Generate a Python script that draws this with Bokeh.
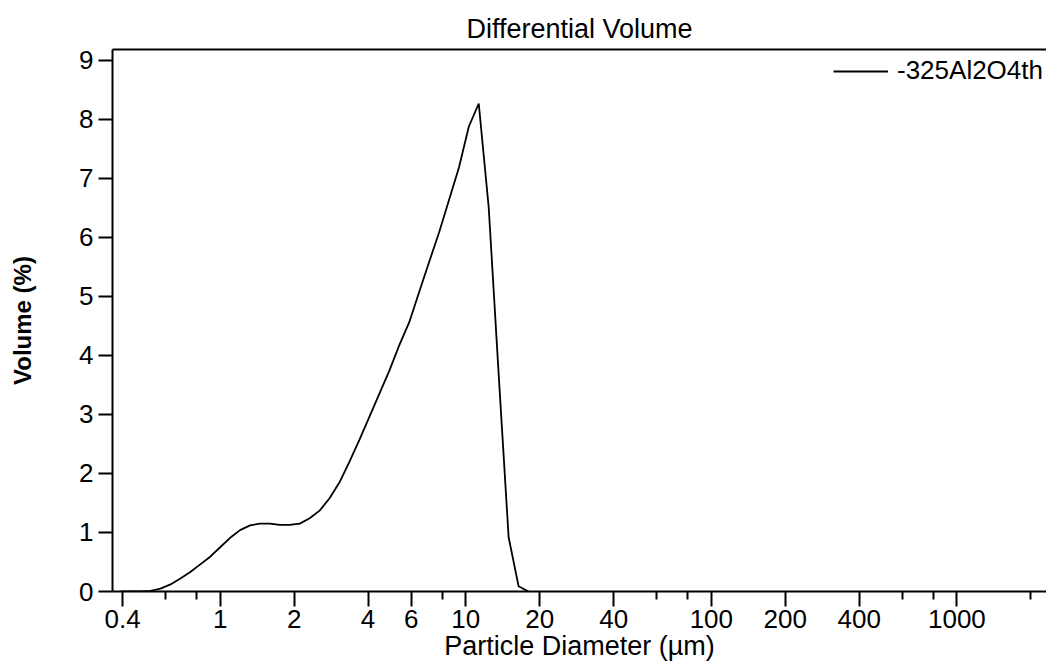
from bokeh.plotting import figure
from bokeh.models import (Range1d, FixedTicker, LinearAxis, Legend, LegendItem,
                          CustomJSTickFormatter, ColumnDataSource)
from bokeh.embed import file_html
from bokeh.resources import INLINE

# Particle diameter (µm, channel centres) and differential volume (%)
diameter = [0.393, 0.432, 0.474, 0.520, 0.571, 0.627, 0.688, 0.755, 0.829, 0.910,
            0.999, 1.097, 1.204, 1.322, 1.451, 1.592, 1.748, 1.919, 2.107, 2.313,
            2.539, 2.787, 3.060, 3.359, 3.687, 4.048, 4.443, 4.878, 5.355, 5.879,
            6.453, 7.084, 7.777, 8.537, 9.371, 10.29, 11.29, 12.40, 13.61, 14.94,
            16.40, 18.00]
volume = [0.0, 0.0, 0.0, 0.01, 0.05, 0.12, 0.22, 0.33, 0.46, 0.59,
          0.75, 0.91, 1.04, 1.12, 1.15, 1.15, 1.13, 1.13, 1.15, 1.24,
          1.37, 1.58, 1.85, 2.20, 2.57, 2.96, 3.35, 3.74, 4.17, 4.56,
          5.07, 5.58, 6.08, 6.63, 7.18, 7.88, 8.27, 6.50, 3.68, 0.92,
          0.09, 0.0]

series_name = "-325Al2O4th"
x_label = "Particle Diameter (µm)"
y_label = "Volume (%)"
x_major_ticks = [0.4, 1, 2, 4, 6, 10, 20, 40, 100, 200, 400, 1000]
x_minor_ticks = [0.6, 0.8, 8, 60, 80, 600, 800, 2000]
y_ticks = [0, 1, 2, 3, 4, 5, 6, 7, 8, 9]

FONT = "Liberation Sans"

p = figure(width=1046, height=663, x_axis_type="log",
           x_range=Range1d(0.364, 2317), y_range=Range1d(0, 9.185),
           output_backend="svg", toolbar_location=None,
           title="Differential Volume",
           min_border_left=112, min_border_right=0,
           min_border_top=49, min_border_bottom=69)

p.background_fill_color = "white"
p.border_fill_color = "white"
p.outline_line_color = None
p.grid.visible = False

p.title.align = "center"
p.title.text_font = FONT
p.title.text_font_size = "27px"
p.title.text_font_style = "normal"
p.title.text_color = "black"
p.title.standoff = 12

src = ColumnDataSource(dict(x=diameter, y=volume))
r = p.line("x", "y", source=src, line_color="black", line_width=1.8)

# x axis
xa = p.xaxis[0]
xa.ticker = FixedTicker(ticks=x_major_ticks, minor_ticks=x_minor_ticks)
xa.formatter = CustomJSTickFormatter(code="return String(Number(tick.toPrecision(6)));")
xa.axis_label = x_label
xa.axis_label_text_font = FONT
xa.axis_label_text_font_size = "27px"
xa.axis_label_text_font_style = "normal"
xa.axis_label_text_color = "black"
xa.axis_label_standoff = 0
xa.major_label_text_font = FONT
xa.major_label_text_font_size = "26px"
xa.major_label_text_color = "black"
xa.major_label_standoff = 3
xa.major_tick_out = 15
xa.major_tick_in = 0
xa.minor_tick_out = 8
xa.minor_tick_in = 0
xa.axis_line_width = 2
xa.axis_line_color = "black"
xa.major_tick_line_width = 2
xa.minor_tick_line_width = 2
xa.major_tick_line_color = "black"
xa.minor_tick_line_color = "black"

# y axis
ya = p.yaxis[0]
ya.ticker = FixedTicker(ticks=y_ticks, minor_ticks=[])
ya.axis_label = y_label
ya.axis_label_text_font = FONT
ya.axis_label_text_font_size = "24px"
ya.axis_label_text_font_style = "bold"
ya.axis_label_text_color = "black"
ya.axis_label_standoff = 40
ya.major_label_text_font = FONT
ya.major_label_text_font_size = "26px"
ya.major_label_text_color = "black"
ya.major_label_standoff = 5
ya.major_tick_out = 14
ya.major_tick_in = 0
ya.minor_tick_out = 0
ya.minor_tick_in = 0
ya.axis_line_width = 2
ya.axis_line_color = "black"
ya.major_tick_line_width = 2
ya.major_tick_line_color = "black"

# top frame line
top = LinearAxis(major_tick_out=0, major_tick_in=0, minor_tick_out=0, minor_tick_in=0,
                 major_label_text_font_size="0px", axis_line_width=2,
                 axis_line_color="black", ticker=FixedTicker(ticks=[]))
p.add_layout(top, "above")

legend = Legend(items=[LegendItem(label=series_name, renderers=[r])],
                location=(721, 505), orientation="vertical",
                glyph_width=55, glyph_height=20, label_standoff=9,
                label_text_font=FONT, label_text_font_size="26px",
                label_text_color="black",
                padding=0, margin=0, spacing=0,
                border_line_color=None, background_fill_alpha=0)
p.add_layout(legend, "center")

open("out.html", "w").write(file_html(p, INLINE))
